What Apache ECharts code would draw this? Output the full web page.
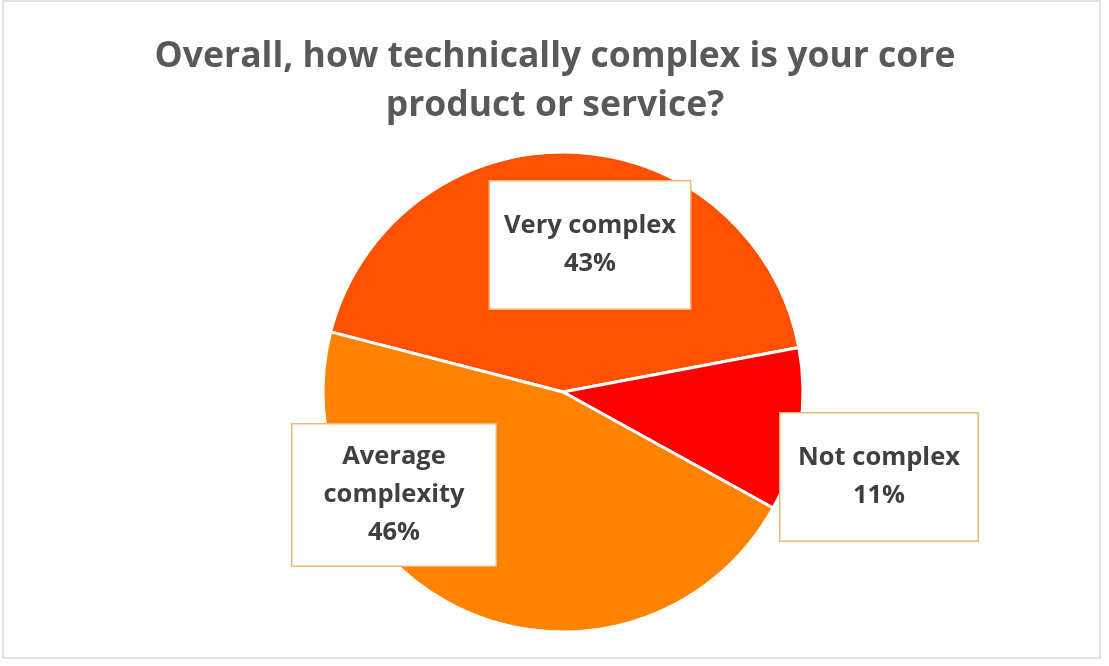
<!DOCTYPE html>
<html>
<head>
<meta charset="utf-8">
<script src="https://cdn.jsdelivr.net/npm/echarts@6/dist/echarts.min.js"></script>
<style>
html,body{margin:0;padding:0;background:#fff;}
#chart{width:1109px;height:666px;}
</style>
</head>
<body>
<div id="chart"></div>
<script>
const titleText = "Overall, how technically complex is your core\nproduct or service?";
const categories = ["Very complex", "Not complex", "Average\ncomplexity"];
const values = [43, 11, 46];
const colors = ["#FF5100", "#FF0000", "#FF8200"];

const labelBoxes = [
  {cx: 590, cy: 245, w: 200, pad: [31, 0, 20, 0]},
  {cx: 879, cy: 477, w: 197, pad: [31, 0, 20, 0]},
  {cx: 394, cy: 495, w: 203, pad: [18, 0, 9, 0]}
];

const chart = echarts.init(document.getElementById('chart'));
chart.setOption({
  backgroundColor: '#ffffff',
  animation: false,
  title: {
    text: titleText,
    left: 550,
    top: 27,
    textAlign: 'center',
    textStyle: {
      fontFamily: 'Open Sans',
      fontWeight: 'bold',
      fontSize: 35.5,
      lineHeight: 49,
      color: '#595959'
    }
  },
  graphic: [{
    type: 'rect',
    shape: {x: 3, y: 1, width: 1097, height: 657},
    style: {fill: 'none', stroke: '#d9d9d9', lineWidth: 1.5},
    z: -1
  }],
  series: [{
    type: 'pie',
    center: [563, 392],
    radius: 240,
    startAngle: 165.5,
    clockwise: true,
    itemStyle: {borderColor: '#ffffff', borderWidth: 3},
    labelLine: {show: false},
    data: categories.map((c, i) => ({
      name: c,
      value: values[i],
      itemStyle: {color: colors[i]},
      label: {
        width: labelBoxes[i].w,
        padding: labelBoxes[i].pad
      }
    })),
    label: {
      show: true,
      position: 'outside',
      formatter: p => p.name + '\n' + p.value + '%',
      fontFamily: 'Open Sans',
      fontWeight: 'bold',
      fontSize: 25.5,
      lineHeight: 38,
      color: '#404040',
      align: 'center',
      backgroundColor: '#ffffff',
      borderColor: '#F1B47A',
      borderWidth: 1.5
    },
    labelLayout: function (params) {
      const b = labelBoxes[params.dataIndex];
      return {x: b.cx, y: b.cy, align: 'center', verticalAlign: 'middle'};
    },
    emphasis: {disabled: true}
  }]
});
</script>
</body>
</html>
